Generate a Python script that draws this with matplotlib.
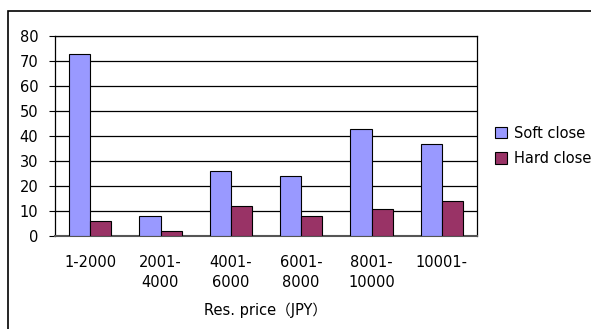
import numpy as np
import matplotlib.pyplot as plt
from matplotlib.patches import Rectangle

# データ
categories = ['1-2000', '2001-\n4000', '4001-\n6000', '6001-\n8000', '8001-\n10000', '10001-']
soft_close = [73, 8, 26, 24, 43, 37]
hard_close = [6, 2, 12, 8, 11, 14]
y_ticks = [0, 10, 20, 30, 40, 50, 60, 70, 80]

plt.rcParams['font.family'] = ['DejaVu Sans', 'Noto Sans CJK JP']

W, H = 591, 329
fig = plt.figure(figsize=(W / 100, H / 100), dpi=100)
ax = fig.add_axes([55 / W, 1 - 236 / H, (477 - 55) / W, 200 / H])

# 外枠
fig.patches.append(Rectangle((8 / W, -0.1), 1.2, 1.1 - 11 / H,
                             transform=fig.transFigure, fill=False,
                             edgecolor='black', linewidth=1.2))

x = np.arange(len(categories))
w = 0.3
ax.bar(x - w / 2, soft_close, w, color='#9999FF', edgecolor='black', linewidth=0.8,
       label='Soft close', zorder=3)
ax.bar(x + w / 2, hard_close, w, color='#993366', edgecolor='black', linewidth=0.8,
       label='Hard close', zorder=3)

ax.set_xlim(-0.5, len(categories) - 0.5)
ax.set_ylim(0, 80)
ax.set_yticks(y_ticks)
ax.set_xticks(x)
ax.set_xticklabels(categories, fontsize=10.5, linespacing=1.4, va='top')
ax.tick_params(axis='x', length=0, pad=14)
ax.tick_params(axis='y', length=4, direction='out', labelsize=10.5, pad=8)
ax.yaxis.grid(True, color='black', linewidth=0.9, zorder=0)
ax.set_axisbelow(True)
for s in ax.spines.values():
    s.set_color('black')
    s.set_linewidth(0.9)
ax.spines['bottom'].set_color('#555555')
ax.spines['bottom'].set_linewidth(1.5)

ax.set_xlabel('Res. price（JPY）', fontsize=10.5, labelpad=9)

ax.legend(loc='center left', bbox_to_anchor=(1.03, 0.45), frameon=False,
          fontsize=10.5, handlelength=0.8, handleheight=0.8, handletextpad=0.5,
          labelspacing=0.7, borderaxespad=0)

fig.savefig('out.png', dpi=100)
